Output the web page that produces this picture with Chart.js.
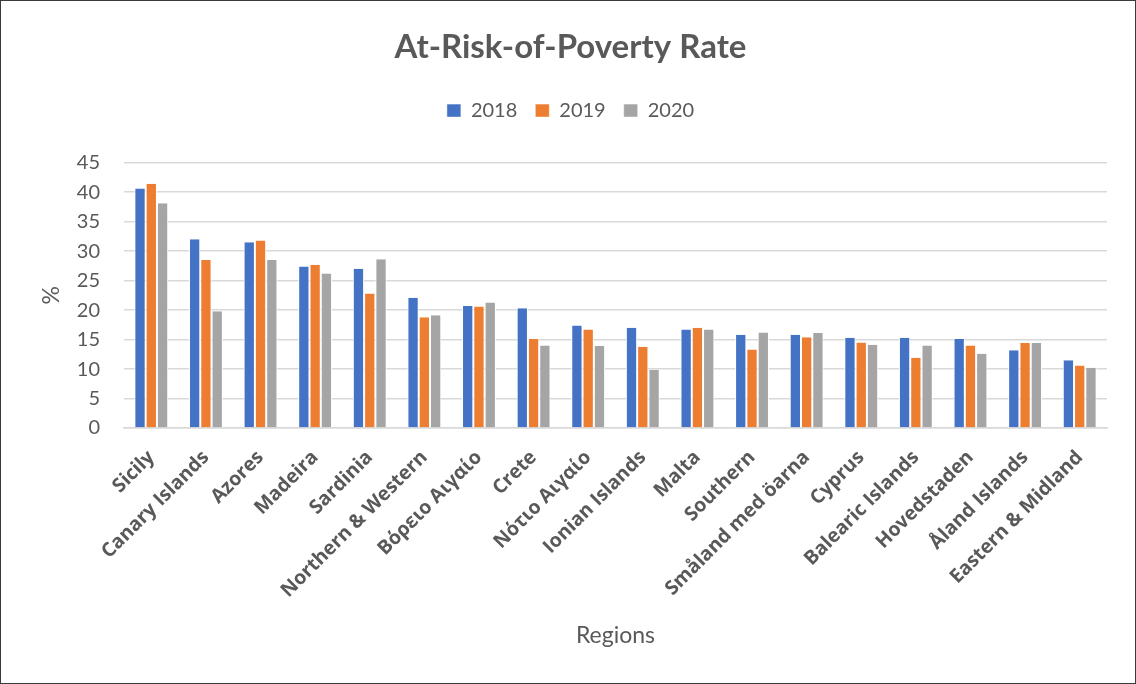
<!DOCTYPE html>
<html>
<head>
<meta charset="utf-8">
<script src="https://cdn.jsdelivr.net/npm/chart.js@4"></script>
<style>
  html, body { margin: 0; padding: 0; background: #ffffff; }
  #wrap { width: 1136px; height: 684px; box-sizing: border-box; border: 1px solid #3a3a3a; position: relative; }
  canvas { display: block; }
</style>
</head>
<body>
<div id="wrap"><canvas id="c"></canvas></div>
<script>
// Regions and at-risk-of-poverty rates (%) by year
const regions = [
  "Sicily", "Canary Islands", "Azores", "Madeira", "Sardinia",
  "Northern & Western", "Βόρειο Αιγαίο", "Crete", "Νότιο Αιγαίο",
  "Ionian Islands", "Malta", "Southern", "Småland med öarna", "Cyprus",
  "Balearic Islands", "Hovedstaden", "Åland Islands", "Eastern & Midland"
];
const rate2018 = [40.6, 32.0, 31.5, 27.4, 27.0, 22.1, 20.7, 20.3, 17.4, 17.0, 16.7, 15.8, 15.8, 15.3, 15.3, 15.1, 13.2, 11.5];
const rate2019 = [41.4, 28.5, 31.8, 27.7, 22.8, 18.8, 20.6, 15.1, 16.7, 13.8, 17.0, 13.3, 15.4, 14.5, 11.9, 14.0, 14.4, 10.6];
const rate2020 = [38.1, 19.8, 28.5, 26.2, 28.6, 19.1, 21.3, 14.0, 13.9, 9.9, 16.7, 16.2, 16.1, 14.1, 14.0, 12.6, 14.4, 10.2];
const yearLabels = ["2018", "2019", "2020"];
const yTicks = { min: 0, max: 45, step: 5 };

const textGrey = "#595959";
const colors = ["#4472c4", "#ed7d31", "#a5a5a5"];
const series = [rate2018, rate2019, rate2020];

const canvas = document.getElementById("c");
canvas.width = 1134; canvas.height = 682;
canvas.style.width = "1134px"; canvas.style.height = "682px";

// Extra room between the legend and the plot area
const legendSpacer = {
  id: "legendSpacer",
  beforeInit(chart) {
    const fit = chart.legend.fit;
    chart.legend.fit = function () {
      fit.bind(chart.legend)();
      this.height += 32;
    };
  }
};

new Chart(canvas, {
  type: "bar",
  data: {
    labels: regions,
    datasets: series.map((vals, i) => ({
      label: yearLabels[i],
      data: vals,
      backgroundColor: colors[i],
      borderColor: "#ffffff",
      borderWidth: { left: 1, right: 1, top: 0, bottom: 0 },
      categoryPercentage: 0.62,
      barPercentage: 1.0
    }))
  },
  options: {
    responsive: false,
    animation: false,
    layout: { padding: { left: 33, right: 28, top: 6, bottom: 30 } },
    plugins: {
      title: {
        display: true,
        text: "At-Risk-of-Poverty Rate",
        color: textGrey,
        font: { family: "Lato", size: 33, weight: "bold" },
        padding: { top: 21, bottom: 15 }
      },
      legend: {
        position: "top",
        labels: {
          color: textGrey,
          font: { family: "Lato", size: 20 },
          boxWidth: 14,
          boxHeight: 13,
          padding: 18
        }
      },
      tooltip: { enabled: false }
    },
    scales: {
      x: {
        grid: { display: false },
        border: { color: "#d9d9d9", width: 1.5 },
        ticks: {
          color: textGrey,
          font: { family: "Open Sans", size: 19.5, weight: "bold" },
          maxRotation: 45,
          minRotation: 45,
          autoSkip: false,
          padding: 10
        },
        title: {
          display: true,
          text: "Regions",
          color: textGrey,
          font: { family: "Lato", size: 23 },
          padding: { top: 9 }
        }
      },
      y: {
        min: yTicks.min,
        max: yTicks.max,
        afterFit(scale) { scale.width = 90; },
        grid: { color: "#d9d9d9", lineWidth: 1.5, drawTicks: false },
        border: { display: false },
        ticks: {
          stepSize: yTicks.step,
          color: textGrey,
          font: { family: "Lato", size: 20 },
          padding: 24
        },
        title: {
          display: true,
          text: "%",
          color: textGrey,
          font: { family: "Lato", size: 23 },
          padding: { bottom: 14 }
        }
      }
    }
  },
  plugins: [legendSpacer]
});
</script>
</body>
</html>
